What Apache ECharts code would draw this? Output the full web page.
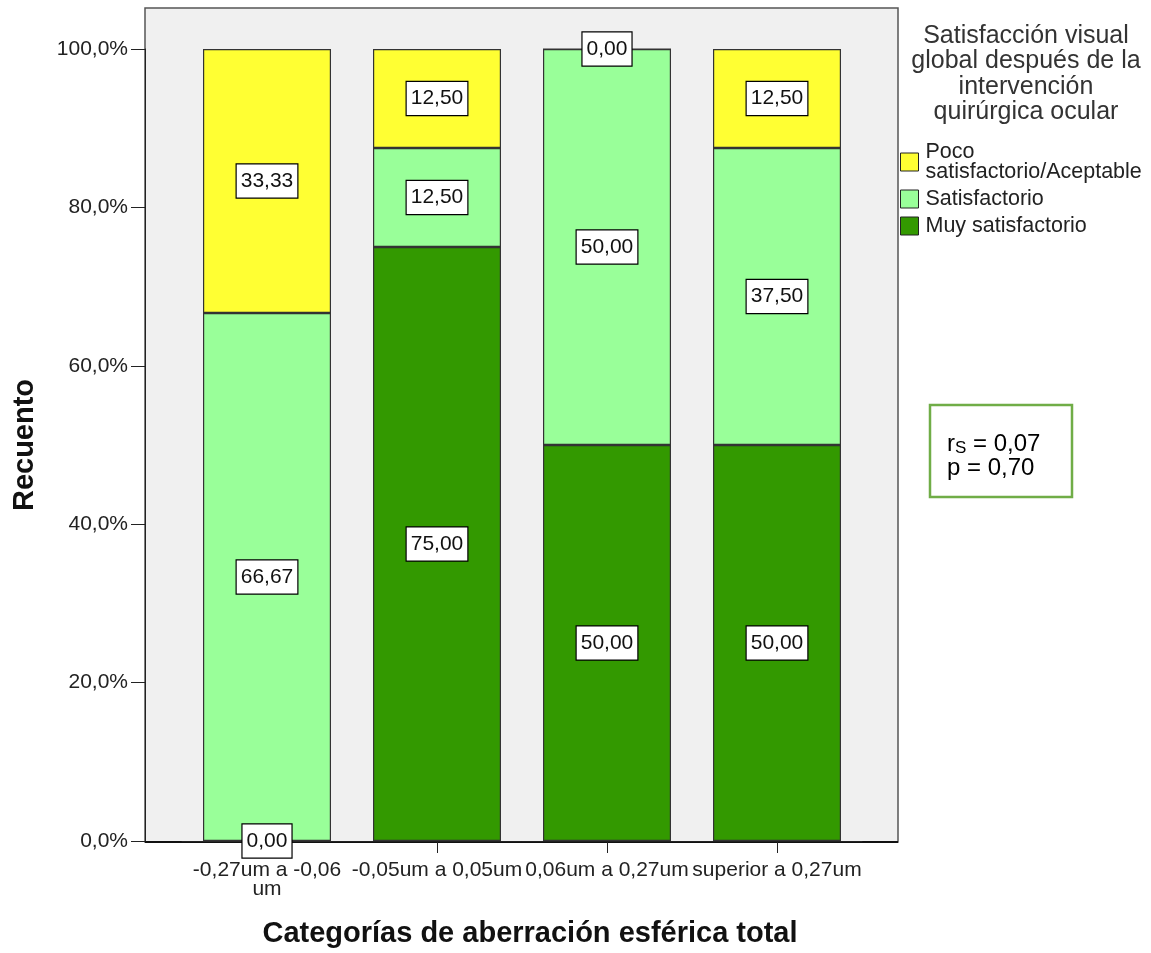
<!DOCTYPE html>
<html><head><meta charset="utf-8">
<script src="https://cdn.jsdelivr.net/npm/echarts@6/dist/echarts.min.js"></script>
<style>html,body{margin:0;padding:0;background:#fff}#c{width:1151px;height:953px}</style>
</head><body><div id="c"></div>
<script>
const categories = ['-0,27um a -0,06\num', '-0,05um a 0,05um', '0,06um a 0,27um', 'superior a 0,27um'];
const muySatisfactorio = [0, 75, 50, 50];
const satisfactorio = [66.67, 12.5, 50, 37.5];
const pocoSatisfactorio = [33.33, 12.5, 0, 12.5];
const yTicks = [0, 20, 40, 60, 80, 100];
const legendNames = ['Poco\nsatisfactorio/Aceptable', 'Satisfactorio', 'Muy satisfactorio'];

const FONT = 'Liberation Sans, Arial, sans-serif';
const chart = echarts.init(document.getElementById('c'));
const lbl = {
  show: true, position: 'inside', color: '#111', fontFamily: FONT, fontSize: 21,
  backgroundColor: '#fff', borderColor: '#000', borderWidth: 1.2, padding: [6, 4, 6, 4],
  formatter: p => p.value.toFixed(2).replace('.', ',')
};
function bar(name, data, color) {
  return {
    name, type: 'bar', stack: 's', data, barWidth: 128,
    itemStyle: { color, borderColor: '#333', borderWidth: 1.2 },
    label: lbl, z: 3
  };
}
chart.setOption({
  animation: false,
  textStyle: { fontFamily: FONT },
  grid: { left: 182, right: 289, top: 49, bottom: 111 },
  xAxis: {
    type: 'category', data: categories,
    name: 'Categorías de aberración esférica total', nameLocation: 'middle', nameGap: 78,
    nameTextStyle: { fontFamily: FONT, fontSize: 29, fontWeight: 'bold', color: '#111', padding: [0, 0, 0, 16] },
    axisLine: { show: true, lineStyle: { color: '#222', width: 1 } },
    axisTick: { show: true, alignWithLabel: true, length: 12, lineStyle: { color: '#222' } },
    axisLabel: { interval: 0, color: '#222', fontSize: 21, margin: 20, lineHeight: 19, fontFamily: FONT }
  },
  yAxis: {
    type: 'value', min: 0, max: 100, interval: 20, offset: 37,
    name: 'Recuento', nameLocation: 'middle', nameGap: 106, nameRotate: 90,
    nameTextStyle: { fontFamily: FONT, fontSize: 29, fontWeight: 'bold', color: '#111' },
    axisLine: { show: true, lineStyle: { color: '#222' } },
    axisTick: { show: true, length: 14, lineStyle: { color: '#222' } },
    splitLine: { show: false },
    axisLabel: { color: '#222', fontSize: 21, margin: 17, fontFamily: FONT, padding: [5, 0, 0, 0],
      formatter: v => yTicks.includes(v) ? v.toFixed(1).replace('.', ',') + '%' : '' }
  },
  legend: {
    data: legendNames, orient: 'vertical', left: 900, top: 141, padding: 0,
    itemWidth: 18, itemHeight: 18, itemGap: 5, icon: 'rect',
    textStyle: { fontFamily: FONT, fontSize: 21.5, color: '#222', lineHeight: 20, padding: [0, 0, 0, 2] },
    itemStyle: { borderColor: '#222', borderWidth: 1 }
  },
  graphic: [
    { type: 'rect', z: -10, shape: { x: 145, y: 8, width: 753, height: 834 },
      style: { fill: '#f0f0f0', stroke: '#555', lineWidth: 1.5 } },
    { type: 'line', z: -5, shape: { x1: 145, y1: 842, x2: 898, y2: 842 }, style: { stroke: '#111', lineWidth: 2 } },
    { type: 'text', style: { text: 'Satisfacción visual\nglobal después de la\nintervención\nquirúrgica ocular',
      x: 1026, y: 23, align: 'center', font: '25px ' + FONT, fill: '#333', lineHeight: 25.5 } },
    { type: 'rect', shape: { x: 930, y: 405, width: 142, height: 92 },
      style: { fill: '#fff', stroke: '#70AD47', lineWidth: 2.5 } },
    { type: 'text', style: { text: '{n|r}{s|S}{n| = 0,07}\n{n|p = 0,70}', x: 947, y: 432,
      rich: { n: { fontFamily: FONT, fontSize: 24, color: '#000', lineHeight: 24.5 },
              s: { fontFamily: FONT, fontSize: 17, color: '#000', lineHeight: 24.5, verticalAlign: 'bottom', padding: [8, 0, 0, 0] } } } }
  ],
  series: [
    bar(legendNames[2], muySatisfactorio, '#339900'),
    bar(legendNames[1], satisfactorio, '#99FF99'),
    bar(legendNames[0], pocoSatisfactorio, '#FFFF33')
  ]
});
</script></body></html>
